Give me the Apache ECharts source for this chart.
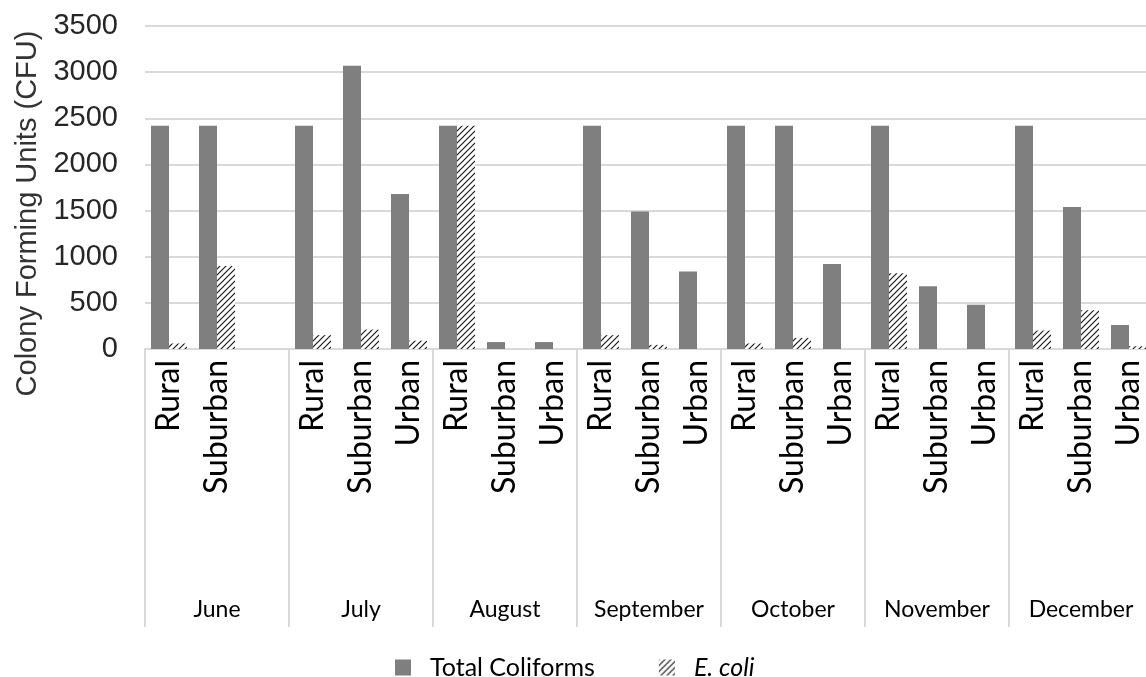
<!DOCTYPE html>
<html>
<head>
<meta charset="utf-8">
<script src="https://cdn.jsdelivr.net/npm/echarts@6/dist/echarts.min.js"></script>
<style>
  html, body { margin: 0; padding: 0; background: #fff; overflow: hidden; }
  /* the canvas runs a few pixels past the window so the last month is cut at the edge */
  #chart { width: 1160px; height: 677px; }
</style>
</head>
<body>
<div id="chart"></div>
<script>
// Sampling months and site types
const months = ['June', 'July', 'August', 'September', 'October', 'November', 'December'];
const sites = ['Rural', 'Suburban', 'Urban'];
// June has no urban sample
const siteSlots = [
  'June|Rural', 'June|Suburban', 'June|',
  'July|Rural', 'July|Suburban', 'July|Urban',
  'August|Rural', 'August|Suburban', 'August|Urban',
  'September|Rural', 'September|Suburban', 'September|Urban',
  'October|Rural', 'October|Suburban', 'October|Urban',
  'November|Rural', 'November|Suburban', 'November|Urban',
  'December|Rural', 'December|Suburban', 'December|Urban'
];
// CFU counts per slot
const totalColiforms = [
  2420, 2420, null,
  2420, 3070, 1680,
  2420, 75, 75,
  2420, 1490, 840,
  2420, 2420, 920,
  2420, 680, 480,
  2420, 1540, 260
];
const eColi = [
  60, 900, null,
  150, 210, 90,
  2420, null, null,
  150, 45, null,
  60, 120, null,
  820, null, null,
  200, 420, 30
];
const yTicks = { min: 0, max: 3500, interval: 500 };

// diagonal hatch fill for the E. coli bars
function hatchPattern() {
  const c = document.createElement('canvas');
  c.width = 6; c.height = 6;
  const g = c.getContext('2d');
  g.fillStyle = '#ffffff';
  g.fillRect(0, 0, 6, 6);
  g.strokeStyle = '#1a1a1a';
  g.lineWidth = 1.2;
  g.beginPath();
  g.moveTo(-1, 7); g.lineTo(7, -1);
  g.moveTo(-4, 4); g.lineTo(4, -4);
  g.moveTo(2, 10); g.lineTo(10, 2);
  g.stroke();
  return c;
}
const hatch = { image: hatchPattern(), repeat: 'repeat' };

const chart = echarts.init(document.getElementById('chart'), null, { renderer: 'canvas' });
chart.setOption({
  animation: false,
  backgroundColor: '#ffffff',
  grid: { left: 145, right: 7, top: 26, bottom: 328, containLabel: false },
  legend: {
    left: 390,
    top: 650,
    itemWidth: 16,
    itemHeight: 16,
    itemGap: 64,
    icon: 'rect',
    data: ['Total Coliforms', 'E. coli'],
    formatter: name => name === 'E. coli' ? '{i|E. coli}' : '{n|' + name + '}',
    textStyle: {
      padding: [0, 0, 0, 14],
      rich: {
        n: { fontFamily: 'Lato', fontSize: 25, color: '#000' },
        i: { fontFamily: 'Lato', fontSize: 25, fontStyle: 'italic', color: '#000' }
      }
    }
  },
  xAxis: [
    {
      type: 'category',
      data: siteSlots,
      position: 'bottom',
      axisLine: { show: true, lineStyle: { color: '#d9d9d9', width: 2 } },
      axisTick: { show: false },
      axisLabel: {
        interval: 0,
        rotate: 90,
        margin: 11,
        fontFamily: 'Lato',
        fontSize: 32,
        color: '#000',
        formatter: v => v.split('|')[1]
      }
    },
    {
      type: 'category',
      data: months,
      position: 'bottom',
      offset: 0,
      axisLine: { show: false },
      axisTick: { show: true, interval: 0, length: 278, lineStyle: { color: '#d9d9d9', width: 2 } },
      axisLabel: {
        interval: 0,
        margin: 249,
        fontFamily: 'Lato',
        fontSize: 23,
        color: '#000'
      }
    }
  ],
  yAxis: {
    type: 'value',
    min: yTicks.min,
    max: yTicks.max,
    interval: yTicks.interval,
    name: 'Colony Forming Units (CFU)',
    nameLocation: 'middle',
    nameGap: 96,
    nameTextStyle: { fontFamily: 'Liberation Sans', fontSize: 29, color: '#333', padding: [0, 52, 0, 0] },
    axisLine: { show: false },
    axisTick: { show: false },
    axisLabel: { margin: 27, fontFamily: 'Liberation Sans', fontSize: 29, color: '#262626', formatter: v => String(v) },
    splitLine: { lineStyle: { color: '#d9d9d9', width: 2 } }
  },
  series: [
    {
      name: 'Total Coliforms',
      type: 'bar',
      xAxisIndex: 0,
      data: totalColiforms,
      barGap: '0%',
      barCategoryGap: '25%',
      itemStyle: { color: '#7f7f7f' }
    },
    {
      name: 'E. coli',
      type: 'bar',
      xAxisIndex: 0,
      data: eColi,
      barGap: '0%',
      barCategoryGap: '25%',
      itemStyle: { color: hatch }
    }
  ]
});
</script>
</body>
</html>
